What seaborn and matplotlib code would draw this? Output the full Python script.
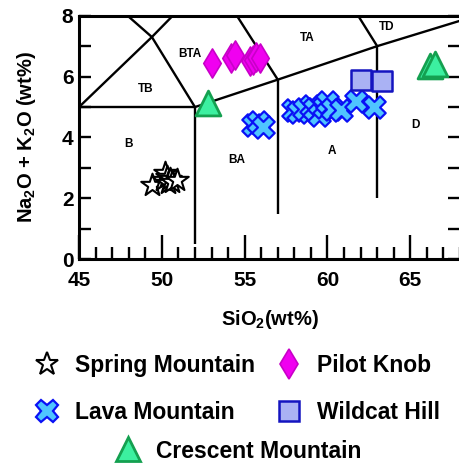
import matplotlib
matplotlib.use("Agg")
import matplotlib.pyplot as plt
from matplotlib.lines import Line2D
from matplotlib.ticker import MultipleLocator
import seaborn as sns
import pandas as pd

# ---- sample compositions (wt%) ----
spring_sio2 = [49.4, 50.1, 50.2, 50.3, 50.4, 50.5, 50.6, 50.9]
spring_alk = [2.45, 2.6, 2.85, 2.7, 2.5, 2.65, 2.55, 2.6]

pilot_sio2 = [53.0, 54.2, 54.4, 55.3, 55.5, 55.7, 55.9]
pilot_alk = [6.45, 6.6, 6.7, 6.5, 6.55, 6.65, 6.6]

lava_sio2 = [55.5, 55.8, 56.1, 57.9, 58.2, 58.6, 59.0, 59.2, 59.5, 59.8,
             60.0, 60.3, 60.8, 61.7, 62.8]
lava_alk = [4.4, 4.5, 4.35, 4.9, 4.85, 4.95, 5.05, 4.95, 4.75, 5.0,
            5.15, 4.95, 4.9, 5.2, 5.0]

wildcat_sio2 = [62.0, 63.3]
wildcat_alk = [5.9, 5.85]

crescent_sio2 = [52.8, 66.2, 66.5]
crescent_alk = [5.12, 6.35, 6.4]

# ---- TAS field boundaries (SiO2, Na2O+K2O) ----
tas_lines = [
    [(45, 5), (52, 5), (52, 0.5)],
    [(52, 5), (57, 5.9), (63, 7), (69, 8)],
    [(57, 5.9), (57, 1.5)],
    [(63, 7), (63, 2)],
    [(45, 5), (49.4, 7.3), (53, 9.3)],
    [(52, 5), (49.4, 7.3), (45, 9.4)],
    [(57, 5.9), (53, 9.3)],
    [(63, 7), (57.6, 11.7)],
]
field_names = ["B", "TB", "BTA", "TA", "TD", "D", "A", "BA"]
field_x = [48.0, 49.0, 51.7, 58.8, 63.6, 65.3, 60.3, 54.5]
field_y = [3.8, 5.6, 6.75, 7.28, 7.62, 4.4, 3.57, 3.25]

W, H = 460, 465
sns.set_style("ticks")
plt.rcParams["font.family"] = ["Liberation Sans", "DejaVu Sans"]
plt.rcParams["font.weight"] = "bold"
plt.rcParams["mathtext.fontset"] = "custom"
plt.rcParams["mathtext.rm"] = "Liberation Sans:bold"
plt.rcParams["mathtext.default"] = "rm"
for key in ["text.color", "axes.labelcolor", "xtick.color", "ytick.color",
            "axes.edgecolor"]:
    plt.rcParams[key] = "black"

fig = plt.figure(figsize=(W / 100, H / 100), dpi=100)
ax = fig.add_axes([79 / W, 1 - 259.3 / H, 381 / W, (259.3 - 15.7) / H])

for seg in tas_lines:
    xs, ys = zip(*seg)
    ax.plot(xs, ys, color="black", lw=1.7, zorder=1, solid_capstyle="butt")

for name, fx, fy in zip(field_names, field_x, field_y):
    ax.text(fx, fy, name, ha="center", va="center", fontsize=8.5,
            fontweight="bold", zorder=2)

groups = [
    ("Pilot Knob", pilot_sio2, pilot_alk,
     dict(marker="d", s=220, color="#f000f0", edgecolor="#c800c8", linewidth=1.2)),
    ("Spring Mountain", spring_sio2, spring_alk,
     dict(marker="*", s=290, color="white", edgecolor="black", linewidth=1.5)),
    ("Lava Mountain", lava_sio2, lava_alk,
     dict(marker="X", s=260, color="#4fc4ff", edgecolor="#0a10f5", linewidth=1.6)),
    ("Wildcat Hill", wildcat_sio2, wildcat_alk,
     dict(marker="s", s=200, color="#aab2f4", edgecolor="#1414c0", linewidth=1.8)),
    ("Crescent Mountain", crescent_sio2, crescent_alk,
     dict(marker="^", s=320, color="#3cf0a0", edgecolor="#14a050", linewidth=2.0)),
]
for name, xs, ys, style in groups:
    df = pd.DataFrame({"SiO2": xs, "alk": ys})
    sns.scatterplot(data=df, x="SiO2", y="alk", ax=ax, legend=False,
                    zorder=3, **style)

ax.set_xlim(45, 68)
ax.set_ylim(0, 8)
ax.xaxis.set_major_locator(MultipleLocator(5))
ax.xaxis.set_minor_locator(MultipleLocator(1))
ax.yaxis.set_major_locator(MultipleLocator(2))
ax.yaxis.set_minor_locator(MultipleLocator(1))
ax.tick_params(axis="x", which="major", direction="in", length=17, width=1.7,
               labelsize=15, pad=8.5, top=False)
ax.tick_params(axis="x", which="minor", direction="in", length=8.5, width=1.7, top=False)
ax.tick_params(axis="y", which="both", direction="in", length=8.5, width=1.7,
               right=True, labelsize=15, pad=4)
for lab in ax.get_xticklabels() + ax.get_yticklabels():
    lab.set_fontweight("bold")
for side in ["left", "bottom", "top"]:
    ax.spines[side].set_linewidth(2.2)
ax.spines["right"].set_visible(False)

ax.set_xlabel("SiO$_2$(wt%)", fontsize=14.5, fontweight="bold", labelpad=13)
ax.set_ylabel("Na$_2$O + K$_2$O (wt%)", fontsize=14.5, fontweight="bold", labelpad=17)


def handle(style):
    return Line2D([], [], linestyle="none", marker=style["marker"],
                  markersize=style["s"] ** 0.5,
                  markerfacecolor=style["color"],
                  markeredgecolor=style["edgecolor"],
                  markeredgewidth=style["linewidth"])


styles = {name: style for name, _, _, style in groups}
order = ["Spring Mountain", "Lava Mountain", "Pilot Knob", "Wildcat Hill"]
fig.legend([handle(styles[n]) for n in order], order, ncol=2,
           loc="center", bbox_to_anchor=(236 / W, 1 - 389 / H),
           frameon=False, prop=dict(size=16.5, weight="bold"),
           handletextpad=0.6, columnspacing=0.8, labelspacing=1.05,
           handlelength=1.3)
fig.legend([handle(styles["Crescent Mountain"])], ["Crescent Mountain"],
           loc="center", bbox_to_anchor=(237 / W, 1 - 451 / H),
           frameon=False, prop=dict(size=16.5, weight="bold"),
           handletextpad=0.55, handlelength=1.3)

fig.savefig("out.png", dpi=100)
